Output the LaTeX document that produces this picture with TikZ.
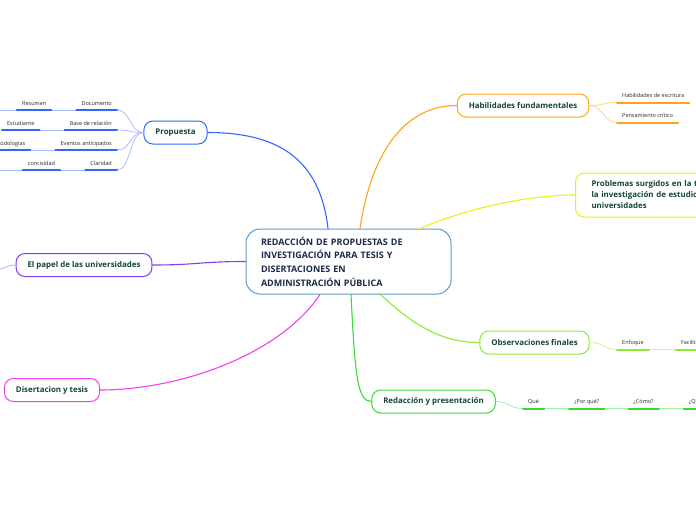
\documentclass[tikz,border=0pt]{standalone}
\usepackage{fontspec}
\setmainfont{Open Sans}
\usetikzlibrary{positioning}
\definecolor{rootline}{HTML}{5B9BD5}
\definecolor{roottext}{HTML}{1B2A4A}
\definecolor{branchtext}{HTML}{134536}
\definecolor{pblue}{HTML}{3366FF}
\definecolor{lblue}{HTML}{A9BEFF}
\definecolor{porange}{HTML}{FFA31A}
\definecolor{lorange}{HTML}{FFD28F}
\definecolor{pyellow}{HTML}{EEEE1A}
\definecolor{plime}{HTML}{8BEA33}
\definecolor{llime}{HTML}{C8F59A}
\definecolor{pgreen}{HTML}{33DD33}
\definecolor{lgreen}{HTML}{A3EEA3}
\definecolor{pmagenta}{HTML}{F040F0}
\definecolor{ppurple}{HTML}{7F3FF0}
\definecolor{lpurple}{HTML}{C3A6F7}
\begin{document}
\begin{tikzpicture}[x=1pt,y=-1pt,line cap=round,line join=round,
  root/.style={draw=rootline,line width=1pt,rounded corners=14pt,fill=white,
    text width=175pt,minimum height=65pt,inner xsep=15pt,align=left,
    font=\fontsize{9}{13.7}\selectfont\bfseries,text=roottext},
  branch/.style={draw=#1,line width=1pt,rounded corners=9pt,fill=white,
    minimum height=23pt,inner xsep=11.5pt,
    font=\fontsize{7.9}{11}\selectfont\bfseries,text=branchtext},
  leaf/.style={inner xsep=5pt,inner ysep=3pt,text height=5pt,text depth=1.5pt,
    font=\fontsize{5.5}{6}\selectfont,text=black!85},
  under/.style={line width=2pt,draw=#1},
  twig/.style={line width=.8pt,draw=#1},
  limb/.style={line width=1.1pt,draw=#1}]
\useasboundingbox (0,0) rectangle (696,520);
\clip (0,0) rectangle (696,520);
% centre
\node[root] (root) at (348.5,261.5)
  {REDACCIÓN DE PROPUESTAS DE\\INVESTIGACIÓN PARA TESIS Y\\DISERTACIONES EN\\ADMINISTRACIÓN PÚBLICA};
% main branches
\node[branch=pblue] (prop) at (175.5,132.5) {Propuesta};
\node[branch=porange] (hab) at (523,105.5) {Habilidades fundamentales};
\node[branch=pyellow,anchor=west,minimum height=44pt,inner xsep=16pt,
  text width=170pt,align=left] (prob) at (575,195)
  {Problemas surgidos en la temática de\\la investigación de estudios en las\\universidades};
\node[branch=ppurple] (papel) at (84,265) {El papel de las universidades};
\node[branch=plime] (obs) at (534.5,342.5) {Observaciones finales};
\node[branch=pgreen] (red) at (433.5,401.5) {Redacción y presentación};
\node[branch=pmagenta] (dis) at (52,390) {Disertacion y tesis};
\draw[limb=pblue] ([xshift=-20.5pt]root.north) .. controls +(-8,-70) and +(70,0) .. (prop.east);
\draw[limb=porange] ([xshift=11.5pt]root.north) .. controls +(12,-80) and +(-50,0) .. (hab.west);
\draw[limb=pyellow] ([xshift=-31pt]root.north east) .. controls +(40,-18) and +(-50,0) .. (prob.west);
\draw[limb=ppurple] (root.west) .. controls +(-45,0) and +(45,0) .. (papel.east);
\draw[limb=plime] ([xshift=-71pt]root.south east) .. controls +(30,28) and +(-40,0) .. (obs.west);
\draw[limb=pgreen] ([xshift=2.5pt]root.south) .. controls +(4,80) and +(-14,0) .. (red.west);
\draw[limb=pmagenta] ([xshift=-28.5pt]root.south) .. controls +(-40,60) and +(80,0) .. (dis.east);
% Propuesta leaves
\node[leaf,anchor=south east] (doc) at (117,110) {Documento};
\node[leaf,left=25pt of doc] (res) {Resumen};
\node[leaf,anchor=south east] (base) at (117,130) {Base de relación};
\node[leaf,left=25pt of base] (est) {Estudiante};
\node[leaf,anchor=south east] (ev) at (117,150) {Eventos anticipados};
\node[leaf,left=25pt of ev] (met) {Metodologías};
\node[leaf,anchor=south east] (cla) at (117,170) {Claridad};
\node[leaf,left=25pt of cla] (con) {concisidad};
\coordinate (resend) at (-5,110);
\coordinate (conend) at (-5,170);
\foreach \n in {doc,base,ev,cla}
  \draw[twig=lblue] (prop.west) .. controls +(-14,0) and +(14,0) .. (\n.south east);
\draw[twig=lblue] (doc.south west) -- (res.south east);
\draw[twig=lblue] (base.south west) -- (est.south east);
\draw[twig=lblue] (ev.south west) -- (met.south east);
\draw[twig=lblue] (cla.south west) -- (con.south east);
\draw[twig=lblue] (res.south west) -- (resend);
\draw[twig=lblue] (con.south west) -- (conend);
\foreach \n in {doc,res,base,est,ev,met,cla,con}
  \draw[under=pblue] (\n.south west) -- (\n.south east);
% Habilidades leaves
\node[leaf,anchor=south west] (esc) at (617,102.5) {Habilidades de escritura};
\node[leaf,anchor=south west] (pen) at (617,122.5) {Pensamiento crítico};
\foreach \n in {esc,pen}
{
  \draw[twig=lorange] (hab.east) .. controls +(14,0) and +(-14,0) .. (\n.south west);
  \draw[under=porange] (\n.south west) -- (\n.south east);
}
% El papel stub
\coordinate (papelend) at (-5,270);
\draw[twig=lpurple] (papel.west) .. controls +(-8,0) and +(6,0) .. (papelend);
% Observaciones leaves
\node[leaf,anchor=south west] (enf) at (617,349.5) {Enfoque};
\node[leaf,right=27pt of enf] (fac) {Facilitar};
\draw[twig=llime] (obs.east) .. controls +(14,0) and +(-14,0) .. (enf.south west);
\draw[twig=llime] (enf.south east) -- (fac.south west);
\foreach \n in {enf,fac}
  \draw[under=plime] (\n.south west) -- (\n.south east);
% Redaccion leaves
\node[leaf,anchor=south west] (que) at (523,408.5) {Qué};
\node[leaf,right=25pt of que] (pq) {¿Por qué?};
\node[leaf,right=24pt of pq] (como) {¿Cómo?};
\node[leaf,right=25pt of como] (quien) {¿Quién?};
\draw[twig=lgreen] (red.east) .. controls +(14,0) and +(-14,0) .. (que.south west);
\draw[twig=lgreen] (que.south east) -- (pq.south west);
\draw[twig=lgreen] (pq.south east) -- (como.south west);
\draw[twig=lgreen] (como.south east) -- (quien.south west);
\foreach \n in {que,pq,como,quien}
  \draw[under=pgreen] (\n.south west) -- (\n.south east);
\end{tikzpicture}
\end{document}
